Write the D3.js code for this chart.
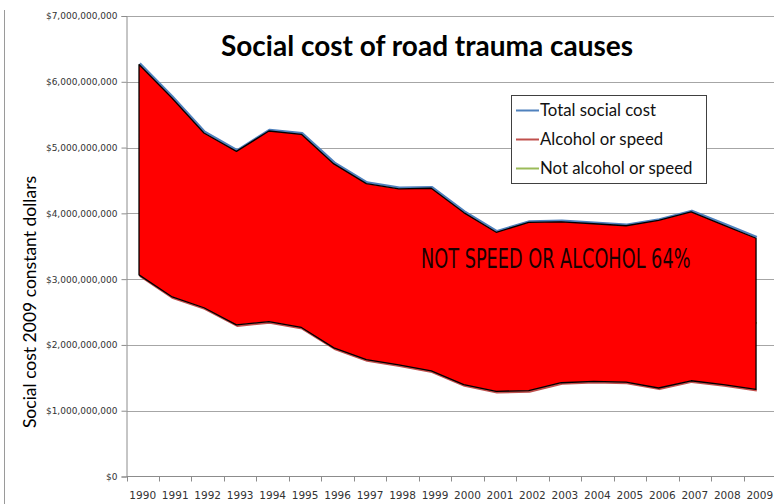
<!DOCTYPE html>
<html>
<head>
<meta charset="utf-8">
<script src="https://cdn.jsdelivr.net/npm/d3@7"></script>
<style>
  body { margin: 0; background: #fff; }
  svg { display: block; }
</style>
</head>
<body>
<div id="wrapper"></div>
<script>
// years on the x axis
const years = [1990, 1991, 1992, 1993, 1994, 1995, 1996, 1997, 1998, 1999,
               2000, 2001, 2002, 2003, 2004, 2005, 2006, 2007, 2008, 2009]

// social cost, billions of 2009 dollars
const totalCost = [6.28, 5.78, 5.24, 4.96, 5.27, 5.22, 4.77, 4.47, 4.39, 4.40,
                   4.03, 3.73, 3.88, 3.89, 3.86, 3.83, 3.91, 4.04, 3.84, 3.64]
const alcoholSpeed = [3.05, 2.72, 2.55, 2.29, 2.34, 2.25, 1.94, 1.76, 1.68, 1.59,
                      1.38, 1.28, 1.29, 1.41, 1.43, 1.42, 1.33, 1.44, 1.38, 1.31]
const notAlcoholSpeed = [3.23, 3.06, 2.69, 2.67, 2.93, 2.97, 2.83, 2.71, 2.71, 2.81,
                         2.65, 2.45, 2.59, 2.48, 2.43, 2.41, 2.58, 2.60, 2.46, 2.33]

const yTicks = [0, 1, 2, 3, 4, 5, 6, 7]
const seriesNames = ["Total social cost", "Alcohol or speed", "Not alcohol or speed"]
const seriesColors = ["#4F81BD", "#C0504D", "#9BBB59"]

const width = 774, height = 504

const svg = d3.select("#wrapper")
    .append("svg")
    .attr("width", width)
    .attr("height", height)

// chart frame, only the left side shows
svg.append("line")
    .attr("x1", 4.5).attr("x2", 4.5)
    .attr("y1", 10).attr("y2", height)
    .attr("stroke", "#9a9a9a")

const x = d3.scaleBand()
    .domain(years)
    .range([126.5, 776])
    .padding(0)
const y = d3.scaleLinear()
    .domain([0, 7])
    .range([476.5, 16])

// Excel puts the points a little left of the band centre
const px = function(i) { return x(years[i]) + x.bandwidth() * 0.41 }

// gridlines
svg.append("g")
    .selectAll("line")
    .data(yTicks.filter(d => d > 0))
    .enter()
    .append("line")
        .attr("x1", 126.5)
        .attr("x2", width)
        .attr("y1", d => Math.round(y(d)) + 0.5)
        .attr("y2", d => Math.round(y(d)) + 0.5)
        .attr("stroke", "#a6a6a6")
        .attr("stroke-width", 1.2)

// y axis
const yAxis = svg.append("g")
    .attr("transform", "translate(126.5,0)")
    .call(d3.axisLeft(y)
        .tickValues(yTicks)
        .tickSize(5)
        .tickPadding(4)
        .tickFormat(d => d === 0 ? "$0" : "$" + d3.format(",")(d * 1e9)))
yAxis.select(".domain").attr("stroke", "#8c8c8c")
yAxis.selectAll(".tick line").attr("stroke", "#8c8c8c")
yAxis.selectAll("text")
    .attr("fill", "#333")
    .style("font-family", "DejaVu Sans")
    .style("font-size", "9px")

// x axis, ticks sit on the band edges
const xAxis = svg.append("g")
    .attr("transform", "translate(0,476.5)")
xAxis.append("line")
    .attr("x1", 126.5).attr("x2", width)
    .attr("stroke", "#8c8c8c")
xAxis.selectAll(".edge")
    .data(years)
    .enter()
    .append("line")
        .attr("class", "edge")
        .attr("x1", d => Math.round(x(d)) + 0.5)
        .attr("x2", d => Math.round(x(d)) + 0.5)
        .attr("y1", 0).attr("y2", 5)
        .attr("stroke", "#8c8c8c")
xAxis.selectAll(".lbl")
    .data(years)
    .enter()
    .append("text")
        .attr("class", "lbl")
        .attr("x", d => x(d) + x.bandwidth() / 2)
        .attr("y", 22)
        .attr("text-anchor", "middle")
        .attr("fill", "#333")
        .style("font-family", "DejaVu Sans")
        .style("font-size", "10.5px")
        .text(d => d)

// axis title
svg.append("text")
    .attr("transform", "translate(36,302) rotate(-90)")
    .attr("text-anchor", "middle")
    .style("font-family", "Lato")
    .style("font-size", "17.5px")
    .attr("fill", "#000")
    .text("Social cost 2009 constant dollars")

// the three series lines
const lineFor = function(vals) {
    return d3.line()
        .x((d, i) => px(i))
        .y(d => y(d))(vals)
}
const allSeries = [totalCost, alcoholSpeed, notAlcoholSpeed]
svg.append("g")
    .selectAll("path")
    .data([notAlcoholSpeed, totalCost, alcoholSpeed])
    .enter()
    .append("path")
        .attr("d", d => lineFor(d))
        .attr("fill", "none")
        .attr("stroke", d => seriesColors[allSeries.indexOf(d)])
        .attr("stroke-width", 2.25)
        .attr("stroke-linejoin", "round")

// hand drawn red shape between total and alcohol/speed
const band = d3.area()
    .x((d, i) => px(i) - 0.8)
    .y0((d, i) => y(alcoholSpeed[i]) - 1)
    .y1(d => y(d) + 1.2)
svg.append("path")
    .attr("d", band(totalCost))
    .attr("fill", "#ff0000")
    .attr("stroke", "#000")
    .attr("stroke-width", 1.3)
    .attr("stroke-linejoin", "round")

// narrow, tall label
svg.append("text")
    .attr("transform", "translate(421,267.5) scale(1,1.35)")
    .style("font-family", "'Liberation Sans Narrow', 'DejaVu Sans Condensed', sans-serif")
    .style("font-size", "19.7px")
    .attr("fill", "#1a0000")
    .text("NOT SPEED OR ALCOHOL 64%")

// title
svg.append("text")
    .attr("x", 427)
    .attr("y", 56)
    .attr("text-anchor", "middle")
    .style("font-family", "Lato")
    .style("font-weight", "bold")
    .style("font-size", "28px")
    .attr("fill", "#000")
    .text("Social cost of road trauma causes")

// legend
const legend = svg.append("g")
legend.append("rect")
    .attr("x", 511.5).attr("y", 95.5)
    .attr("width", 195).attr("height", 88)
    .attr("fill", "#fff")
    .attr("stroke", "#404040")
const rowY = d3.scalePoint().domain(seriesNames).range([110.5, 168.5])
const rows = legend.selectAll(".row")
    .data(seriesNames)
    .enter()
    .append("g")
    .attr("class", "row")
    .attr("transform", d => `translate(0,${rowY(d)})`)
rows.append("line")
    .attr("x1", 516).attr("x2", 539)
    .attr("stroke", (d, i) => seriesColors[i])
    .attr("stroke-width", 2)
rows.append("text")
    .attr("x", 540)
    .attr("y", 5.5)
    .style("font-family", "Lato")
    .style("font-size", "16.8px")
    .attr("fill", "#111")
    .text(d => d)
</script>
</body>
</html>
